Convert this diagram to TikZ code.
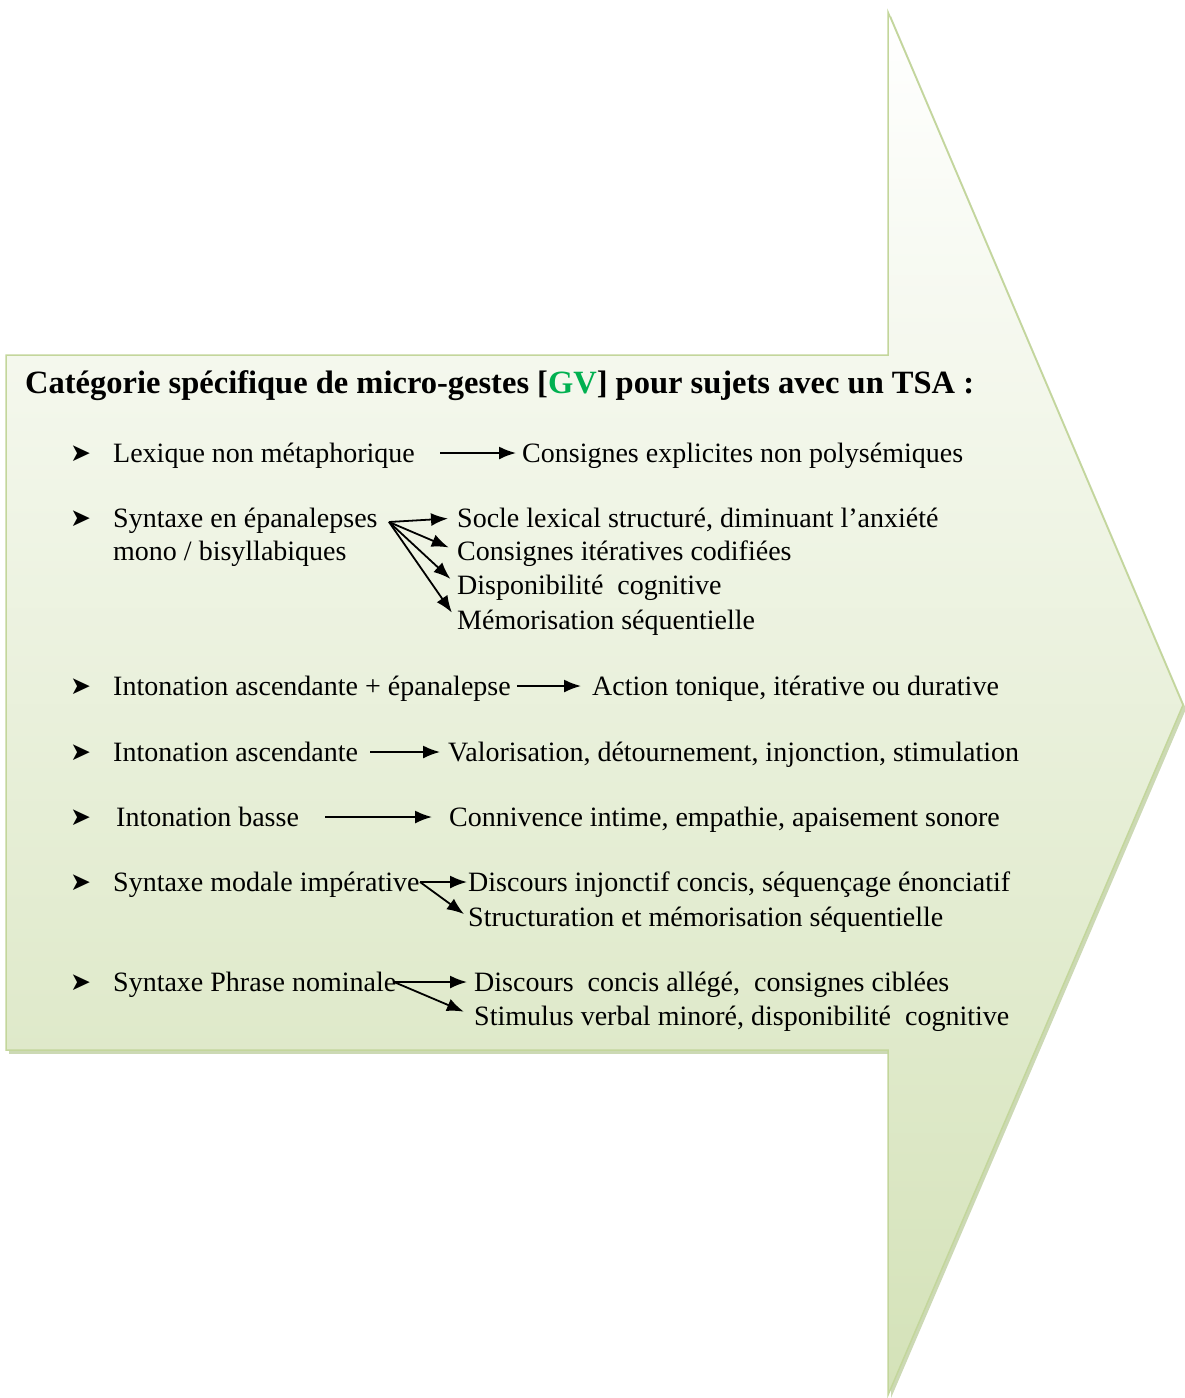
\documentclass[tikz,border=0pt]{standalone}
\usepackage{fontspec}
\setmainfont{Liberation Serif}
\newfontfamily\symfont{DejaVu Sans}
\usetikzlibrary{arrows.meta}
\definecolor{fillgreen}{RGB}{212,226,184}
\definecolor{edgegreen}{RGB}{195,214,155}
\definecolor{shadowgreen}{RGB}{170,192,130}
\definecolor{gvgreen}{RGB}{0,176,80}
\begin{document}
\begin{tikzpicture}[x=1pt,y=-1pt,
  txt/.style={anchor=west,inner sep=0pt,text height=22pt,text depth=3pt,font=\fontsize{28}{30}\selectfont},
  bul/.style={anchor=west,inner sep=0pt,text height=20pt,text depth=4pt,font=\symfont\fontsize{25}{27}\selectfont},
  con/.style={-{Latex[length=17pt,width=13pt]},line width=1.8pt}]
\useasboundingbox (0,0) rectangle (1185,1398);
% shadow
\fill[shadowgreen,opacity=0.6] (9,359) -- (891,359) -- (891,1054) -- (9,1054) -- cycle;
\fill[shadowgreen,opacity=0.6] (891,16) -- (1186,709) -- (891,1398) -- cycle;
% arrow shape
\shade[top color=white,bottom color=fillgreen,draw=edgegreen,line width=1.5pt]
  (6,355) -- (888,355) -- (888,12) -- (1183,705) -- (888,1395) -- (888,1050) -- (6,1050) -- cycle;
% title
\node[anchor=west,inner sep=0pt,font=\bfseries\fontsize{32.5}{34}\selectfont] (title) at (25,386)
  {Catégorie spécifique de micro-gestes [\textcolor{gvgreen}{GV}] pour sujets avec un TSA :};
% bullets
\foreach \yy/\nm in {453/b1,518/b2,686/b3,752/b4,817/b5,882/b6,982/b7}
  \node[bul] (\nm) at (70,\yy) {➤};
% item 1
\node[txt] (s1) at (113,453) {Lexique non métaphorique};
\node[txt] (t1) at (522,453) {Consignes explicites non polysémiques};
\draw[con,shorten <=25pt,shorten >=6pt] (s1.east) -- (t1.west);
% item 2
\node[txt] (s2a) at (113,518) {Syntaxe en épanalepses};
\node[txt] (s2b) at (113,551) {mono / bisyllabiques};
\node[txt] (t2a) at (457,518) {Socle lexical structuré, diminuant l’anxiété};
\node[txt] (t2b) at (457,551) {Consignes itératives codifiées};
\node[txt] (t2c) at (457,585) {Disponibilité~ cognitive};
\node[txt] (t2d) at (457,620) {Mémorisation séquentielle};
\coordinate (o2) at (389,522);
\draw[con,shorten >=9pt] (o2) -- (t2a.west);
\draw[con,shorten >=9pt] (o2) -- (t2b.west);
\draw[con,shorten >=9pt] (o2) -- (t2c.west);
\draw[con,shorten >=9pt] (o2) -- (t2d.west);
% item 3
\node[txt] (s3) at (113,686) {Intonation ascendante + épanalepse};
\node[txt] (t3) at (592,686) {Action tonique, itérative ou durative};
\draw[con,shorten <=6pt,shorten >=11pt] (s3.east) -- (t3.west);
% item 4
\node[txt] (s4) at (113,752) {Intonation ascendante};
\node[txt] (t4) at (448,752) {Valorisation, détournement, injonction, stimulation};
\draw[con,shorten <=12pt,shorten >=8pt] (s4.east) -- (t4.west);
% item 5
\node[txt] (s5) at (116,817) {Intonation basse};
\node[txt] (t5) at (449,817) {Connivence intime, empathie, apaisement sonore};
\draw[con,shorten <=26pt,shorten >=17pt] (s5.east) -- (t5.west);
% item 6
\node[txt] (s6) at (113,882) {Syntaxe modale impérative};
\node[txt] (t6a) at (468,882) {Discours injonctif concis, séquençage énonciatif};
\node[txt] (t6b) at (468,917) {Structuration et mémorisation séquentielle};
\coordinate (o6) at (420,882);
\draw[con,shorten >=1pt] (o6) -- (t6a.west);
\draw[con,shorten >=5pt] (o6) -- (t6b.west);
% item 7
\node[txt] (s7) at (113,982) {Syntaxe Phrase nominale};
\node[txt] (t7a) at (474,982) {Discours~ concis allégé,~ consignes ciblées};
\node[txt] (t7b) at (474,1016) {Stimulus verbal minoré, disponibilité~ cognitive};
\coordinate (o7) at (394,982);
\draw[con,shorten >=7pt] (o7) -- (t7a.west);
\draw[con,shorten >=11pt] (o7) -- (t7b.west);
\end{tikzpicture}
\end{document}
